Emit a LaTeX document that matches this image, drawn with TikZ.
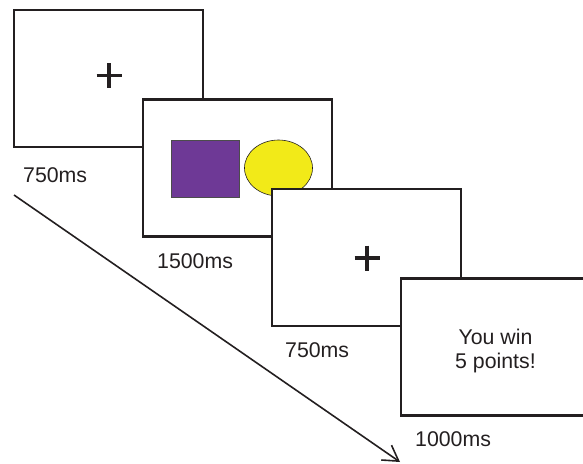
\documentclass[tikz,border=0pt]{standalone}
\usepackage{fontspec}
\setmainfont{Liberation Sans}
\usetikzlibrary{arrows.meta}
\definecolor{inkgray}{HTML}{231F20}
\definecolor{stimpurple}{HTML}{6E3996}
\definecolor{stimyellow}{HTML}{F2EA18}

\begin{document}
\begin{tikzpicture}[x=1pt, y=-1pt,
        screen/.style={draw=inkgray, line width=2.7pt, fill=white, minimum width=189pt, minimum height=137pt, inner sep=0pt, outer sep=0pt},
        timing/.style={anchor=base west, inner sep=0pt, text=inkgray, font=\fontsize{21.3}{24}\selectfont},
        cross/.style={draw=inkgray, line width=3.8pt},
    ]
        \useasboundingbox (0,0) rectangle (583,463);
        \clip (0,0) rectangle (583,463);

        % fixation
        \node[screen] (frameA) at (108.5,78.5) {};
        \coordinate (crossA) at (109,75.5);
        \draw[cross] (crossA) ++(-12.5,0) -- ++(25,0) (crossA) ++(0,-12.5) -- ++(0,25);

        % choice
        \node[screen] (frameB) at (237.5,168) {};
        \filldraw[fill=stimpurple, draw=gray!60!black, line width=0.6pt] (171,140) rectangle (239,197);
        \filldraw[fill=stimyellow, draw=inkgray, line width=0.6pt] (278.5,168) ellipse [x radius=34pt, y radius=28pt];

        % fixation
        \node[screen] (frameC) at (366.5,257.5) {};
        \coordinate (crossC) at (367,258);
        \draw[cross] (crossC) ++(-12.5,0) -- ++(25,0) (crossC) ++(0,-12.5) -- ++(0,25);

        % feedback
        \node[screen] (frameD) at (495.5,347) {};
        \node[inner sep=0pt, align=center, text=inkgray, font=\fontsize{21.3}{24}\selectfont] (winText) at (495.5,351) {You win\\5 points!};

        \node[timing] (timeA) at ([shift={(9,35)}]frameA.south west) {750ms};
        \node[timing] (timeB) at ([shift={(14,32)}]frameB.south west) {1500ms};
        \node[timing] (timeC) at ([shift={(13,31)}]frameC.south west) {750ms};
        \node[timing] (timeD) at ([shift={(14,31)}]frameD.south west) {1000ms};

        % time axis
        \coordinate (arrowStart) at (14,195);
        \coordinate (arrowEnd) at (400,462);
        \draw[inkgray, line width=1.6pt, -{Straight Barb[length=15pt, width=18pt]}] (arrowStart) -- (arrowEnd);
    \end{tikzpicture}
\end{document}
